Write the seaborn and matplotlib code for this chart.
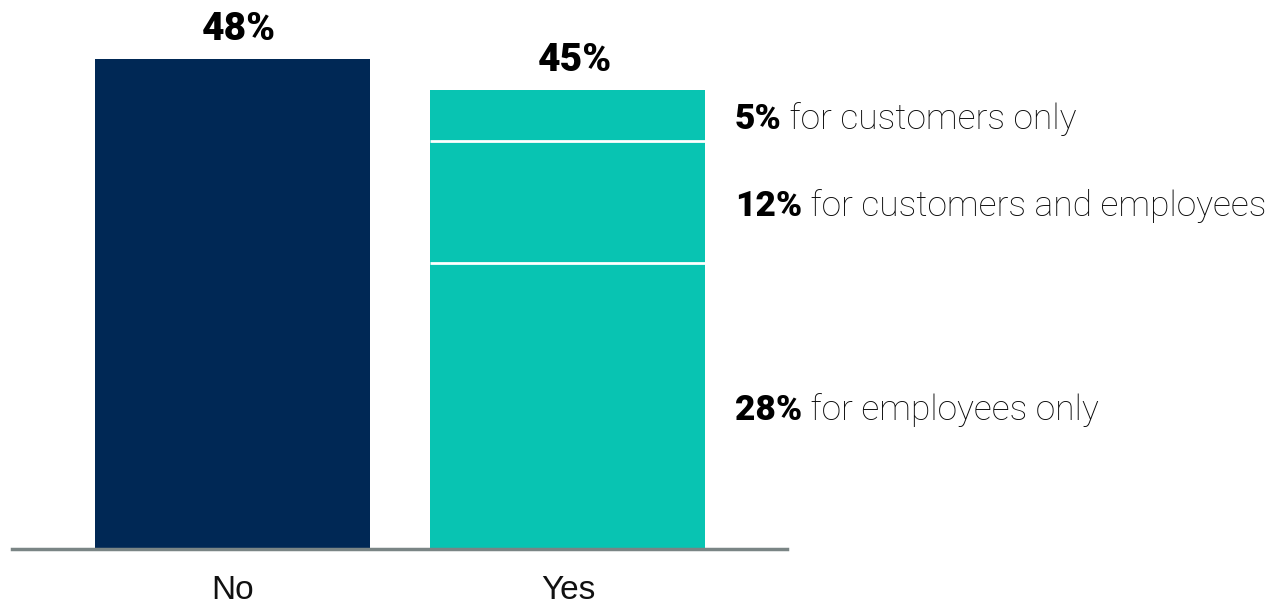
import matplotlib
matplotlib.use("Agg")
import matplotlib.pyplot as plt
import seaborn as sns
import pandas as pd

# Survey answers: share of respondents
answers = ["No", "Yes"]
totals = [48, 45]

# Breakdown of the "Yes" answers, stacked from the bottom up
yes_parts = [28, 12, 5]
yes_part_labels = ["for employees only", "for customers and employees", "for customers only"]

navy = "#002855"
teal = "#08C4B2"

sns.set_theme(style="white")
plt.rcParams["font.family"] = ["Roboto", "DejaVu Sans"]

fig = plt.figure(figsize=(12.82, 6.05), dpi=100)
ax = fig.add_axes([12 / 1282, 56 / 605, 775 / 1282, 549 / 605])

df = pd.DataFrame({"answer": answers, "share": totals})
sns.barplot(data=df, x="answer", y="share", hue="answer",
            palette=[navy, teal], saturation=1, width=0.82, linewidth=0,
            legend=False, ax=ax)

ax.set_ylim(0, 53.8)
ax.set_xlim(-0.657, 1.653)

# Total labels above each bar
for patch, val in zip(ax.patches, totals):
    cx = patch.get_x() + patch.get_width() / 2
    ax.annotate(f"{val}%", xy=(cx, val), xytext=(5, 8), textcoords="offset points",
                ha="center", va="bottom", fontsize=28, fontweight="black", color="black")

# Split the "Yes" bar into its parts and label each one
yes_bar = ax.patches[1]
x0 = yes_bar.get_x()
x1 = x0 + yes_bar.get_width()
bottom = 0
for i, (part, label) in enumerate(zip(yes_parts, yes_part_labels)):
    top = bottom + part
    if i < len(yes_parts) - 1:
        ax.plot([x0, x1], [top, top], color="white", lw=2, solid_capstyle="butt", zorder=3)
    mid = (bottom + top) / 2
    t1 = ax.annotate(f"{part}%", xy=(x1, mid), xytext=(21, -3), textcoords="offset points",
                     ha="left", va="center", fontsize=25.5, fontweight="black", color="black")
    ax.annotate(" " + label, xy=(1, 0), xycoords=t1, ha="left", va="bottom",
                fontsize=25.5, fontweight="light", color="#0a0a0a")
    bottom = top

# Axes styling: only a grey baseline
for side in ["top", "left", "right"]:
    ax.spines[side].set_visible(False)
ax.spines["bottom"].set_color("#7a8585")
ax.spines["bottom"].set_linewidth(2.5)
ax.set_yticks([])
ax.set_xlabel("")
ax.set_ylabel("")
ax.tick_params(axis="x", length=0, pad=19)
for lbl in ax.get_xticklabels():
    lbl.set_fontsize(24)
    lbl.set_family(["Liberation Sans Narrow", "Liberation Sans", "DejaVu Sans"])
    lbl.set_color("#111111")

fig.savefig("out.png", dpi=100, facecolor="white")
